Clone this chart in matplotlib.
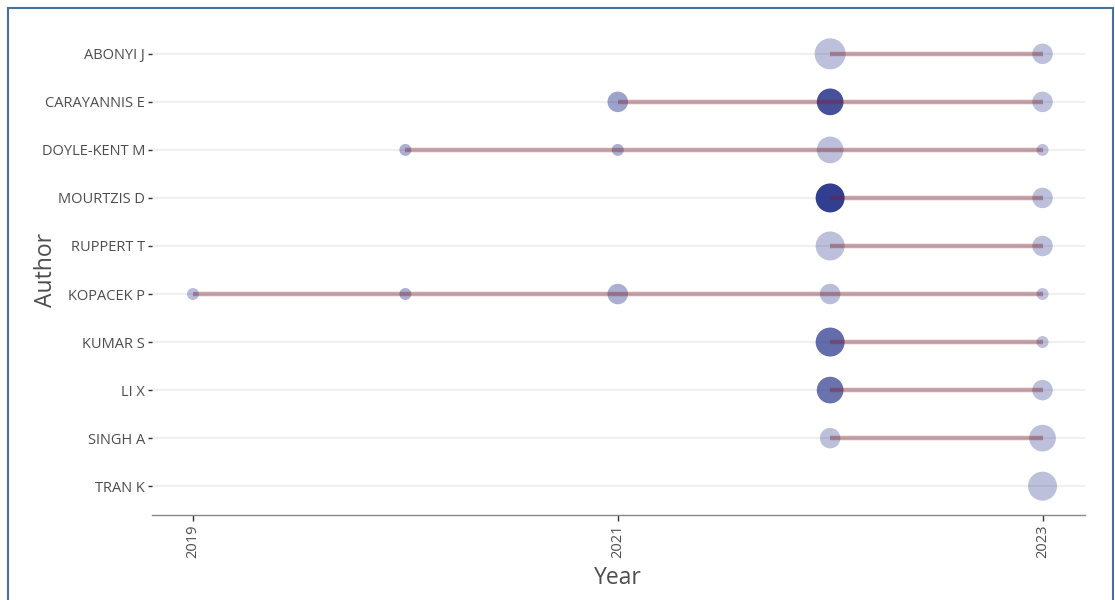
import matplotlib
matplotlib.use("Agg")
import matplotlib.pyplot as plt
from matplotlib.lines import Line2D
import numpy as np

plt.rcParams['font.family'] = ['Open Sans', 'DejaVu Sans']

authors = ["ABONYI J", "CARAYANNIS E", "DOYLE-KENT M", "MOURTZIS D", "RUPPERT T",
           "KOPACEK P", "KUMAR S", "LI X", "SINGH A", "TRAN K"]

# per-author records: years, article counts, total citations per year
years = {
    "ABONYI J":     [2022, 2023],
    "CARAYANNIS E": [2021, 2022, 2023],
    "DOYLE-KENT M": [2020, 2021, 2022, 2023],
    "MOURTZIS D":   [2022, 2023],
    "RUPPERT T":    [2022, 2023],
    "KOPACEK P":    [2019, 2020, 2021, 2022, 2023],
    "KUMAR S":      [2022, 2023],
    "LI X":         [2022, 2023],
    "SINGH A":      [2022, 2023],
    "TRAN K":       [2023],
}
freq = {
    "ABONYI J":     [6, 2],
    "CARAYANNIS E": [2, 4, 2],
    "DOYLE-KENT M": [1, 1, 4, 1],
    "MOURTZIS D":   [5, 2],
    "RUPPERT T":    [5, 2],
    "KOPACEK P":    [1, 1, 2, 2, 1],
    "KUMAR S":      [5, 1],
    "LI X":         [4, 2],
    "SINGH A":      [2, 4],
    "TRAN K":       [5],
}
tcpy = {
    "ABONYI J":     [0.5, 0.3],
    "CARAYANNIS E": [5, 17, 0.3],
    "DOYLE-KENT M": [3, 3, 0.5, 0.3],
    "MOURTZIS D":   [20, 0.5],
    "RUPPERT T":    [0.5, 0.5],
    "KOPACEK P":    [1, 3, 3, 1, 0.3],
    "KUMAR S":      [13, 0.5],
    "LI X":         [12, 0.5],
    "SINGH A":      [0.5, 0.5],
    "TRAN K":       [0.5],
}
xticks = [2019, 2021, 2023]

W, H = 1115, 600
fig = plt.figure(figsize=(W / 100, H / 100), dpi=100)
ax = fig.add_axes([152 / W, 1 - 515 / H, (1085 - 152) / W, (515 - 25) / H])

base = np.array([0x27, 0x33, 0x8A]) / 255
all_f = [v for a in authors for v in freq[a]]
all_t = [v for a in authors for v in tcpy[a]]
fmin, fmax = min(all_f), max(all_f)
tmin, tmax = min(all_t), max(all_t)

for i in range(len(authors)):
    ax.axhline(i, color='#EBEBEB', lw=1.1, zorder=0)

for i, a in enumerate(authors):
    ys = years[a]
    f = np.array(freq[a], dtype=float)
    t = np.array(tcpy[a], dtype=float)
    d_px = 12 + 19 * np.sqrt((f - fmin) / (fmax - fmin))
    s = (d_px * 0.72) ** 2
    alphas = 0.30 + 0.65 * (t - tmin) / (tmax - tmin)
    cols = [(*base, al) for al in alphas]
    ax.scatter(ys, [i] * len(ys), s=s, c=cols, edgecolors='none', zorder=2)
    if len(ys) > 1:
        ax.plot([min(ys), max(ys)], [i, i], color='#7F1F2A', alpha=0.40,
                lw=3.2, solid_capstyle='butt', zorder=3)

ax.set_xlim(2018.807, 2023.2)
ax.set_ylim(len(authors) - 1 + 0.6, -0.6)
ax.set_yticks(range(len(authors)))
ax.set_yticklabels(authors)
ax.set_xticks(xticks)
ax.set_xticklabels([str(x) for x in xticks], rotation=90)
ax.tick_params(axis='y', length=3, width=1, color='#333333', labelsize=10.5,
               labelcolor='#4D4D4D', pad=2)
ax.tick_params(axis='x', length=4, width=1, color='#333333', labelsize=10.5,
               labelcolor='#4D4D4D', pad=3)
for sp in ['top', 'right', 'left']:
    ax.spines[sp].set_visible(False)
ax.spines['bottom'].set_color('#888888')
ax.spines['bottom'].set_linewidth(1.0)
ax.set_xlabel('Year', fontsize=16.5, color='#4D4D4D', va='center')
ax.set_ylabel('Author', fontsize=16.5, color='#4D4D4D', va='center')
ax.xaxis.set_label_coords((618 - 152) / 933, (515 - 578) / 490)
ax.yaxis.set_label_coords((46 - 152) / 933, 0.5)

# outer border
bc = '#4A6FA5'
fig.add_artist(Line2D([8 / W, 8 / W], [0, 1 - 8 / H], transform=fig.transFigure, color=bc, lw=1.5))
fig.add_artist(Line2D([8 / W, 1113 / W], [1 - 8 / H, 1 - 8 / H], transform=fig.transFigure, color=bc, lw=1.5))
fig.add_artist(Line2D([1113 / W, 1113 / W], [0, 1 - 8 / H], transform=fig.transFigure, color=bc, lw=1.5))

fig.savefig('out.png', dpi=100)
